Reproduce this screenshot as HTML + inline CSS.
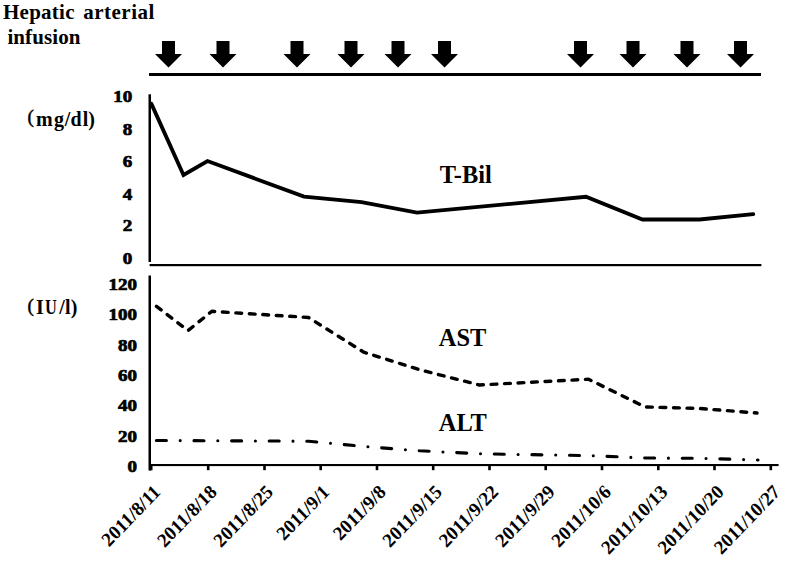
<!DOCTYPE html>
<html><head><meta charset="utf-8"><style>
html,body{margin:0;padding:0;background:#fff;}
body{width:785px;height:564px;overflow:hidden;}
svg{display:block;}
text{font-family:"Liberation Serif",serif;font-weight:bold;fill:#000;}
.n{font-size:17px;stroke:#000;stroke-width:0.7px;}
.L{font-size:24.4px;}
.u{font-size:20px;}
.lp{font-weight:normal;font-size:19px;stroke:#000;stroke-width:0.5px;}
.t{font-size:21px;letter-spacing:0.25px;}
.d{font-size:18.8px;}
</style></head><body>
<svg width="785" height="564" viewBox="0 0 785 564">
<polygon points="162.0,41 175.0,41 175.0,54 182.0,54 168.5,67.5 155.0,54 162.0,54" fill="#000"/>
<polygon points="216.5,41 229.5,41 229.5,54 236.5,54 223,67.5 209.5,54 216.5,54" fill="#000"/>
<polygon points="290.5,41 303.5,41 303.5,54 310.5,54 297,67.5 283.5,54 290.5,54" fill="#000"/>
<polygon points="344.5,41 357.5,41 357.5,54 364.5,54 351,67.5 337.5,54 344.5,54" fill="#000"/>
<polygon points="391.5,41 404.5,41 404.5,54 411.5,54 398,67.5 384.5,54 391.5,54" fill="#000"/>
<polygon points="438.0,41 451.0,41 451.0,54 458.0,54 444.5,67.5 431.0,54 438.0,54" fill="#000"/>
<polygon points="574.0,41 587.0,41 587.0,54 594.0,54 580.5,67.5 567.0,54 574.0,54" fill="#000"/>
<polygon points="626.5,41 639.5,41 639.5,54 646.5,54 633,67.5 619.5,54 626.5,54" fill="#000"/>
<polygon points="680.5,41 693.5,41 693.5,54 700.5,54 687,67.5 673.5,54 680.5,54" fill="#000"/>
<polygon points="734.0,41 747.0,41 747.0,54 754.0,54 740.5,67.5 727.0,54 734.0,54" fill="#000"/>
<rect x="149" y="73" width="612" height="3" fill="#000"/>
<rect x="148.5" y="94.3" width="2.5" height="167.7" fill="#000"/>
<rect x="149.6" y="264" width="611.8" height="2.2" fill="#000"/>
<rect x="148.5" y="275.5" width="2.5" height="195" fill="#000"/>
<rect x="150" y="464" width="628.6" height="2.1" fill="#000"/>
<rect x="149.5" y="465" width="3" height="5.3" fill="#000"/>
<rect x="206.9" y="465" width="2.6" height="5.2" fill="#000"/>
<rect x="263.2" y="465" width="2.6" height="5.2" fill="#000"/>
<rect x="319.4" y="465" width="2.6" height="5.2" fill="#000"/>
<rect x="375.7" y="465" width="2.6" height="5.2" fill="#000"/>
<rect x="431.9" y="465" width="2.6" height="5.2" fill="#000"/>
<rect x="488.2" y="465" width="2.6" height="5.2" fill="#000"/>
<rect x="544.4" y="465" width="2.6" height="5.2" fill="#000"/>
<rect x="600.7" y="465" width="2.6" height="5.2" fill="#000"/>
<rect x="657.0" y="465" width="2.6" height="5.2" fill="#000"/>
<rect x="713.2" y="465" width="2.6" height="5.2" fill="#000"/>
<rect x="769.5" y="465" width="2.6" height="5.2" fill="#000"/>
<polyline points="151.3,103.6 183.5,175 207.5,161 304,196.6 361.5,202.1 417,212.6 586,196.8 642.5,219.5 699.5,219.5 753.3,214.2" fill="none" stroke="#000" stroke-width="3.8" stroke-linejoin="miter" stroke-linecap="round"/>
<polyline points="156.5,306.3 188,330.6 211.9,311.3 308.5,317.5 363.8,352.2 419.5,369.7 479.5,385 588.5,379.2 645,406.9 700,408.5 757,413" fill="none" stroke="#000" stroke-width="3.4" stroke-dasharray="5.8 7.7" stroke-linecap="round" stroke-linejoin="round"/>
<polyline points="156.4,440.5 308.5,441.2 363.8,446.5 419.5,450.8 479.5,453.8 588.5,455.6 645,458 700,458.3 758,460" fill="none" stroke="#000" stroke-width="3.1" stroke-dasharray="10 13.8 0 13.8" stroke-linecap="round" stroke-linejoin="round"/>
<text class="n" text-anchor="end" transform="translate(132.20,102.00) scale(1.12,1.0)">10</text>
<text class="n" text-anchor="end" transform="translate(132.20,134.50) scale(1.12,1.0)">8</text>
<text class="n" text-anchor="end" transform="translate(132.20,167.40) scale(1.12,1.0)">6</text>
<text class="n" text-anchor="end" transform="translate(132.20,199.70) scale(1.12,1.0)">4</text>
<text class="n" text-anchor="end" transform="translate(132.20,231.20) scale(1.12,1.0)">2</text>
<text class="n" text-anchor="end" transform="translate(132.20,263.90) scale(1.12,1.0)">0</text>
<text class="n" text-anchor="end" transform="translate(137.00,289.60) scale(1.12,1.0)">120</text>
<text class="n" text-anchor="end" transform="translate(137.00,319.90) scale(1.12,1.0)">100</text>
<text class="n" text-anchor="end" transform="translate(137.00,350.60) scale(1.12,1.0)">80</text>
<text class="n" text-anchor="end" transform="translate(137.00,381.00) scale(1.12,1.0)">60</text>
<text class="n" text-anchor="end" transform="translate(137.00,411.00) scale(1.12,1.0)">40</text>
<text class="n" text-anchor="end" transform="translate(137.00,441.80) scale(1.12,1.0)">20</text>
<text class="n" text-anchor="end" transform="translate(137.00,471.50) scale(1.12,1.0)">0</text>
<text class="L" transform="translate(439.80,183.20) scale(1,1.0)">T-Bil</text>
<text class="L" transform="translate(438.80,345.80) scale(1,1.0)">AST</text>
<text class="L" transform="translate(438.80,430.90) scale(1,1.0)">ALT</text>
<text class="u" y="126"><tspan class="lp" x="27.4" dy="-2.8">(</tspan><tspan x="36.1 53.9 64.7 70.6 82.7 88.2" dy="2.8">mg/dl)</tspan></text>
<text class="u" y="313.8"><tspan class="lp" x="27.5" dy="-2.2">(</tspan><tspan x="35.9" dy="2.2">I</tspan><tspan x="59.2 65 70.7">/l)</tspan></text>
<text class="u" transform="translate(45,313.8) scale(0.82,1)">U</text>
<text class="t" x="3" y="18.8">Hepatic</text>
<text class="t" x="83.2" y="18.8" style="letter-spacing:0.5px">arterial</text>
<text class="t" x="7.4" y="44.2" style="letter-spacing:0.1px">infusion</text>
<text class="d" text-anchor="end" transform="translate(161.5,493) scale(1,1.04) rotate(-45)">2011/8/11</text>
<text class="d" text-anchor="end" transform="translate(217.8,493) scale(1,1.04) rotate(-45)">2011/8/18</text>
<text class="d" text-anchor="end" transform="translate(274.2,493) scale(1,1.04) rotate(-45)">2011/8/25</text>
<text class="d" text-anchor="end" transform="translate(330.5,493) scale(1,1.04) rotate(-45)">2011/9/1</text>
<text class="d" text-anchor="end" transform="translate(386.9,493) scale(1,1.04) rotate(-45)">2011/9/8</text>
<text class="d" text-anchor="end" transform="translate(443.2,493) scale(1,1.04) rotate(-45)">2011/9/15</text>
<text class="d" text-anchor="end" transform="translate(499.5,493) scale(1,1.04) rotate(-45)">2011/9/22</text>
<text class="d" text-anchor="end" transform="translate(555.9,493) scale(1,1.04) rotate(-45)">2011/9/29</text>
<text class="d" text-anchor="end" transform="translate(612.2,493) scale(1,1.04) rotate(-45)">2011/10/6</text>
<text class="d" text-anchor="end" transform="translate(668.6,493) scale(1,1.04) rotate(-45)">2011/10/13</text>
<text class="d" text-anchor="end" transform="translate(724.9,493) scale(1,1.04) rotate(-45)">2011/10/20</text>
<text class="d" text-anchor="end" transform="translate(781.2,493) scale(1,1.04) rotate(-45)">2011/10/27</text>
</svg>
</body></html>
